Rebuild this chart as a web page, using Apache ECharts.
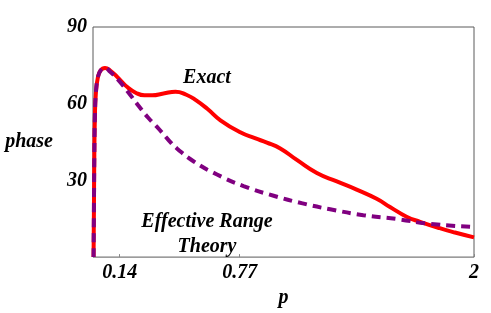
<!DOCTYPE html>
<html>
<head>
<meta charset="utf-8">
<script src="https://cdn.jsdelivr.net/npm/echarts@6/dist/echarts.min.js"></script>
<style>html,body{margin:0;padding:0;background:#fff;}#c{width:491px;height:313px;}</style>
</head>
<body>
<div id="c"></div>
<script>
// Data
const exactP = [0.003,0.005,0.007,0.01,0.015,0.025,0.04,0.063,0.09,0.136,0.18,0.224,0.27,0.311,0.37,0.433,0.49,0.538,0.6,0.669,0.773,0.85,0.913,0.983,1.07,1.175,1.28,1.384,1.489,1.559,1.646,1.717,1.82,1.9,2.0];
const exactPhase = [0,20,40,55,64,70,73,74,73,69.8,66.5,64.3,63.3,63.3,64,64.7,63.5,61.5,58,53.5,48.8,46.5,44.8,42.5,38,32.9,29.6,26.4,22.8,19.6,15.8,13.8,11.3,9.6,7.7];
const ertP = [0.003,0.005,0.007,0.01,0.015,0.025,0.04,0.063,0.09,0.136,0.19,0.241,0.29,0.346,0.4,0.442,0.529,0.651,0.79,0.948,1.1,1.245,1.419,1.594,1.768,2.0];
const ertPhase = [0,20,40,55,64,70,73,74,72.5,69,64,59,54.5,50.1,45.5,42.4,37.4,32.3,27.8,24,21,18.7,16.4,14.9,13,11.8];
const xTicks = [0.14, 0.77, 2];
const yTicks = [30, 60, 90];
const seriesNames = ['Exact', 'Effective Range\nTheory'];

const zip = (a, b) => a.map((v, i) => [v, b[i]]);
const font = 'Liberation Serif';
const txt = {fontFamily: font, fontStyle: 'italic', fontWeight: 'bold', fontSize: 20, color: '#000'};

const chart = echarts.init(document.getElementById('c'), null, {renderer: 'canvas'});
chart.setOption({
  animation: false,
  backgroundColor: '#fff',
  grid: {left: 93, right: 17, top: 27, bottom: 50, show: true, borderColor: '#5a5a5a', borderWidth: 1, backgroundColor: 'transparent'},
  xAxis: {
    type: 'value', min: 0, max: 2,
    name: 'p', nameLocation: 'middle', nameGap: 21,
    nameTextStyle: txt,
    axisLine: {show: false},
    splitLine: {show: false},
    axisTick: {show: true, inside: true, length: 3, customValues: xTicks, lineStyle: {color: '#888'}},
    axisLabel: Object.assign({customValues: xTicks, margin: 6, formatter: v => String(v)}, txt)
  },
  yAxis: {
    type: 'value', min: 0, max: 90, interval: 30,
    name: 'phase', nameLocation: 'middle', nameGap: 40, nameRotate: 0,
    nameTextStyle: txt,
    axisLine: {show: false},
    splitLine: {show: false},
    axisTick: {show: true, inside: true, length: 3, customValues: [30, 60], lineStyle: {color: '#888'}},
    axisLabel: Object.assign({customValues: yTicks, margin: 6}, txt)
  },
  series: [
    {
      name: seriesNames[0], type: 'line', data: zip(exactP, exactPhase),
      showSymbol: false, smooth: 0.5,
      lineStyle: {color: '#ff0000', width: 4}, z: 2
    },
    {
      name: seriesNames[1], type: 'line', data: zip(ertP, ertPhase),
      showSymbol: false, smooth: 0.5,
      lineStyle: {color: '#800080', width: 4, type: [9, 6]}, z: 3
    }
  ],
  graphic: [
    {type: 'text', x: 207, y: 78, z: 10, style: {text: seriesNames[0], align: 'center', verticalAlign: 'middle',
      fontFamily: font, fontStyle: 'italic', fontWeight: 'bold', fontSize: 20, fill: '#000'}},
    {type: 'text', x: 207, y: 234, z: 10, style: {text: seriesNames[1], align: 'center', verticalAlign: 'middle', lineHeight: 25,
      fontFamily: font, fontStyle: 'italic', fontWeight: 'bold', fontSize: 20, fill: '#000'}}
  ]
});
</script>
</body>
</html>
